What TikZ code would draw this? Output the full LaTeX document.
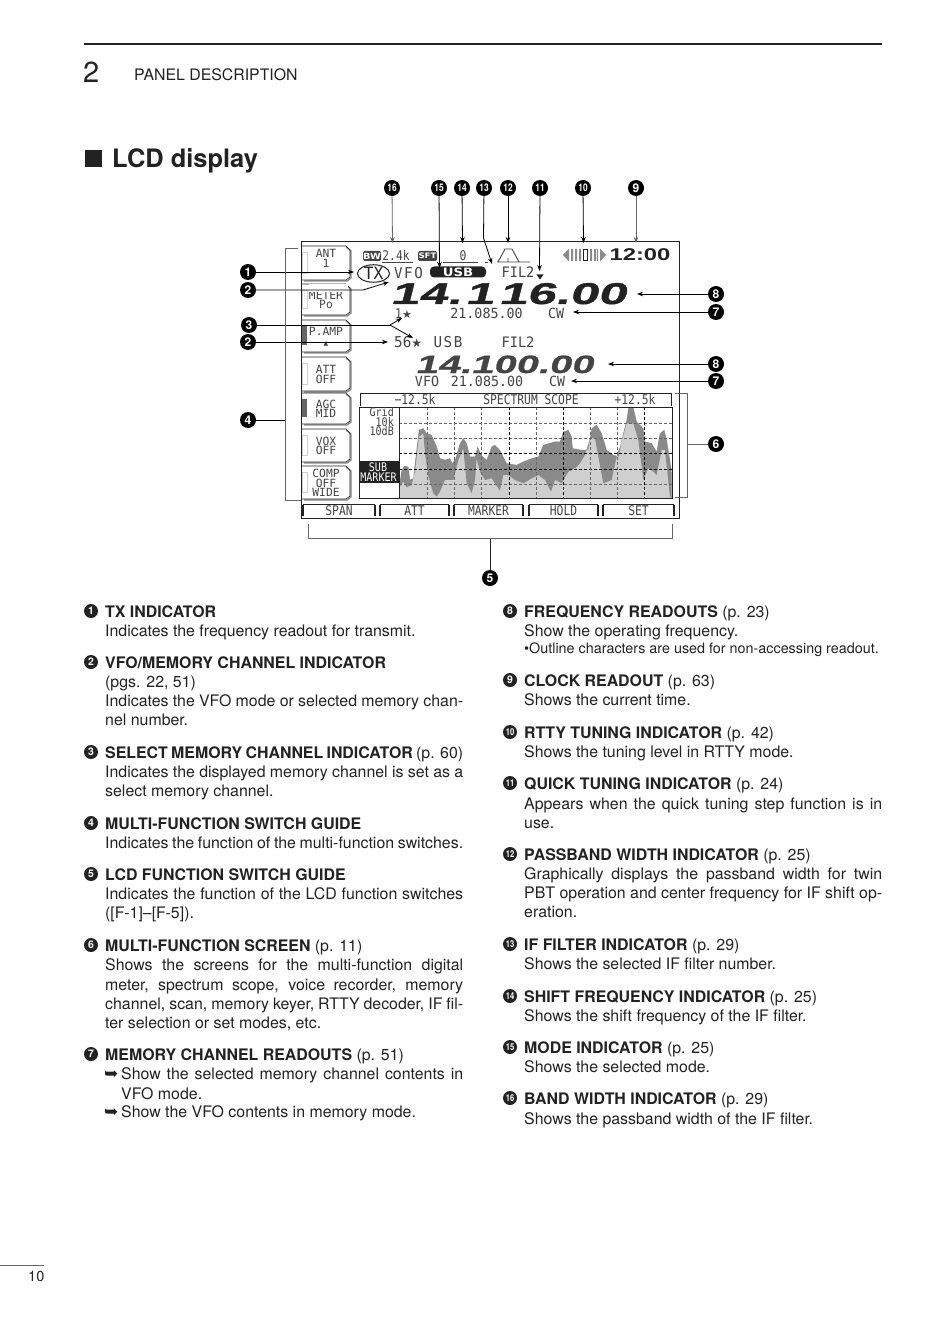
\documentclass[tikz,border=0pt]{standalone}
\usepackage{fontspec}
\usetikzlibrary{arrows.meta,shapes.geometric}
\setmainfont{TeX Gyre Heros}
\newfontfamily\lcdfont[FakeStretch=0.85]{DejaVu Sans Mono}
\newfontfamily\lcdwide[FakeStretch=0.95]{DejaVu Sans Mono}
\newfontfamily\lcdbtnfam{DejaVu Sans Mono}
\newfontfamily\symfont{DejaVu Sans}
\newfontfamily\freqfont[UprightFont={* Bold},FakeStretch=1.7,FakeSlant=0.25,FakeBold=1.2]{Liberation Sans}
\newfontfamily\freqbfont[UprightFont={* Bold},FakeStretch=1.6,FakeSlant=0.25,FakeBold=1.2]{Liberation Sans}
\newfontfamily\clockfont[UprightFont={* Bold},FakeStretch=1.4]{Liberation Sans}
\newfontfamily\pillfont[UprightFont={* Bold},FakeStretch=1.15]{DejaVu Sans}
\newfontfamily\condfont[UprightFont={* Bold},FakeStretch=0.8]{TeX Gyre Heros}
\definecolor{ink}{HTML}{222222}
\definecolor{lcdgrey}{HTML}{444444}
\definecolor{specdark}{HTML}{8A8A8A}
\definecolor{speclight}{HTML}{CFCFCF}
\definecolor{leadgrey}{HTML}{666666}
\newcounter{tl}
\newcommand\btnfont{\lcdbtnfam\fontsize{11.3}{9.6}\selectfont\lineskiplimit-10pt\relax}
\newcommand\bodyline[3]{\stepcounter{tl}\node[bodytext] (tl\thetl) at (#1,#2) {#3};}
\newcommand\smallline[3]{\stepcounter{tl}\node[bodysmall] (tl\thetl) at (#1,#2) {#3};}
\newcommand\jl[1]{\makebox[358pt][s]{#1}}
\newcommand\jlb[1]{\makebox[342pt][s]{#1}}
\newcommand\lcdbtn[6][]{% node options, name, top, bottom, text, indicator style
  \draw[btnshade] (346,#3+1) -- (351,#3+5) -- (351,#4-3) -- (347,#4) -- (304,#4);
  \draw[btnline] (302,#3) -- (346,#3) -- (350,#3+4) -- (350,#4-4) -- (346,#4-1) -- (302,#4-1);
  \draw[#6] (302,#3+6) rectangle (307,#4-8);
  \node[lcdbtn,#1] (#2) at (326,{(#3+#4)/2}) {#5};}
\newcommand\softkey[4]{% name, left, right, text
  \draw[softline] (#2,504.5) -- (#3,504.5);
  \draw[softside] (#2,505) -- (#2,516) (#3,505) -- (#3,516);
  \node[lcdkey] (#1) at ({(#2+#3)/2},510.5) {#4};}
\tikzset{
  bodytext/.style={anchor=base west,inner sep=0pt,text=ink,font=\fontsize{15.9}{19}\selectfont},
  bodysmall/.style={anchor=base west,inner sep=0pt,text=ink,font=\fontsize{14.35}{17}\selectfont},
  num/.style={circle,fill=black,text=white,inner sep=0pt,minimum size=16pt,font=\bfseries\fontsize{12}{12}\selectfont},
  numw/.style={num,font=\condfont\fontsize{10.5}{10.5}\selectfont},
  numt/.style={num,minimum size=14pt,fill=ink,font=\bfseries\fontsize{10.5}{10.5}\selectfont},
  numtw/.style={numt,font=\condfont\fontsize{9.5}{9.5}\selectfont},
  lead/.style={draw=black,line width=0.8pt,-{Stealth[length=6pt,width=4.5pt]}},
  leadg/.style={lead,draw=leadgrey},
  plain/.style={draw=black,line width=0.8pt},
  bracket/.style={draw=leadgrey,line width=0.9pt},
  frame/.style={draw=ink,line width=1pt},
  lcd/.style={inner sep=0pt,text=lcdgrey,font=\lcdfont\fontsize{15.3}{15.3}\selectfont},
  lcdsm/.style={inner sep=0pt,text=lcdgrey,font=\lcdfont\fontsize{13.3}{13.3}\selectfont},
  lcdrow/.style={inner sep=0pt,text=lcdgrey,font=\lcdwide\fontsize{14}{14}\selectfont},
  lcdbig/.style={inner sep=0pt,text=lcdgrey,font=\lcdwide\fontsize{15}{15}\selectfont},
  lcdgrid/.style={inner sep=0pt,text=lcdgrey,font=\lcdfont\fontsize{11.8}{11.8}\selectfont},
  lcdbtn/.style={lcdsm,align=center,font=\btnfont},
  lcdkey/.style={lcdsm},
  btnline/.style={draw=ink,line width=0.6pt},
  btnshade/.style={draw=specdark,line width=1.4pt},
  softline/.style={draw=ink,line width=0.8pt},
  softside/.style={draw=ink,line width=1.5pt},
  indon/.style={draw=none,fill=leadgrey},
  indoff/.style={draw=speclight,line width=0.8pt},
  griddark/.style={draw=black,line width=0.9pt,dash pattern=on 2.5pt off 2.5pt},
  gridlight/.style={draw=leadgrey,line width=0.7pt,dash pattern=on 2.5pt off 2.5pt},
}
\begin{document}
\begin{tikzpicture}[x=1pt,y=-1pt]
\path[fill=white,use as bounding box] (0,0) rectangle (950,1337);

% page header
\coordinate (ruleL) at (84,44); \coordinate (ruleR) at (882,44);
\draw[ink,line width=1.8pt] (ruleL) -- (ruleR);
\node[anchor=base west,inner sep=0pt,text=ink,font=\fontsize{29}{29}\selectfont] (chap) at (83,83) {2};
\node[anchor=base west,inner sep=0pt,text=ink,font=\fontsize{15.85}{17}\selectfont] (sect) at (134,81) {PANEL DESCRIPTION};
\node[anchor=north west,inner sep=0pt,fill=ink,minimum width=17pt,minimum height=17pt] (bullet) at (85,150) {};
\node[anchor=base west,inner sep=0pt,text=ink,font=\bfseries\fontsize{25.4}{27}\selectfont] (title) at (112,168) {LCD display};

% LCD outer frame
\draw[frame] (301,518) -- (301,242) -- (679,242) -- (679,518) -- cycle;

% left buttons
\lcdbtn[yshift=5pt]{bANT}{246}{281}{ANT\\1}{indoff}
\lcdbtn{bMET}{284}{316}{METER\\Po}{indoff}
\fill[white] (309,284.5) rectangle (348,292);
\lcdbtn{bAMP}{320}{353}{P.AMP\\\fontsize{6}{6}\selectfont\symfont ▲}{indon}
\lcdbtn{bATT}{357}{392}{ATT\\OFF}{indoff}
\lcdbtn{bAGC}{393}{425}{AGC\\MID}{indon}
\lcdbtn{bVOX}{429}{463}{VOX\\OFF}{indoff}
\lcdbtn{bCMP}{466}{500}{COMP\\OFF\\WIDE}{indoff}

% soft keys
\softkey{kSPAN}{303}{375}{SPAN}
\softkey{kATT}{380}{449}{ATT}
\softkey{kMRK}{454}{523}{MARKER}
\softkey{kHLD}{529}{598}{HOLD}
\softkey{kSET}{603}{674}{SET}

% top status row
\node[fill=lcdgrey,text=white,inner sep=0pt,minimum width=18pt,minimum height=10pt,rounded corners=1.5pt,font=\pillfont\fontsize{8.5}{8.5}\selectfont] (bw) at (372,256) {BW};
\node[lcdsm] (bwv) at (396,255.5) {2.4k};
\draw[lcdgrey,line width=0.8pt] (382,262) -- (413,262);
\node[fill=lcdgrey,text=white,inner sep=0pt,minimum width=19pt,minimum height=10pt,rounded corners=1.5pt,font=\pillfont\fontsize{7.5}{7.5}\selectfont] (sft) at (427.5,256) {SFT};
\node[lcdsm] (sftv) at (463,255.5) {0};
\draw[lcdgrey,line width=0.8pt] (443,262) -- (478,262);
\draw[lcdgrey,line width=0.8pt] (485,262) -- (488,262);
\draw[lcdgrey,line width=0.9pt] (497,262) -- (530,262) (498,262) -- (505,249) -- (512,249) -- (519,262) (508,258) -- (508,262);

% RTTY tuning indicator and clock
\fill[specdark] (569,248.5) -- (569,261.5) -- (563,255) -- cycle;
\fill[specdark] (600,248.5) -- (600,261.5) -- (606,255) -- cycle;
\fill[specdark] (571,249) rectangle +(2,12) (575,249) rectangle +(2,12) (579,249) rectangle +(2,12)
                (590,249) rectangle +(2,12) (594,249) rectangle +(2,12) (598,249) rectangle +(-1,12);
\draw[ink,line width=1pt] (583.5,249.5) rectangle (587,260.5);
\node[inner sep=0pt,text=ink,font=\clockfont\fontsize{17}{17}\selectfont] (clock) at (640,255) {12:00};

% main readout rows
\node[draw=ink,line width=1pt,ellipse,minimum width=32pt,minimum height=15pt,inner sep=0pt,text=ink,font=\lcdwide\fontsize{17}{17}\selectfont] (tx) at (373.5,273.5) {TX};
\node[lcdbig] (vfo) at (408.5,273) {V\kern1.5pt F\kern1.5pt O};
\node[fill=ink,text=white,rounded corners=4pt,inner sep=0pt,minimum width=56pt,minimum height=11pt,font=\pillfont\fontsize{11.5}{11.5}\selectfont] (usb) at (458,272) {USB};
\node[lcdrow,font=\lcdwide\fontsize{14.4}{14.4}\selectfont] (fil) at (518,272) {FIL2};
\fill[ink] (536.5,274.5) -- (543.5,274.5) -- (540,279.5) -- cycle;
\node[anchor=base west,inner sep=0pt,text=ink,font=\freqfont\fontsize{30}{30}\selectfont] (freq) at (390,304) {14.\kern4pt1\kern5pt16.00};
\node[lcdsm,anchor=west] (ch1) at (395,313.5) {1{\symfont\fontsize{11}{11}\selectfont★}};
\node[lcdrow] (ro1) at (486.5,313.5) {21.085.00};
\node[lcdrow] (cw1) at (556,313.5) {CW};
\node[lcdbig,anchor=west] (ch2) at (394,342) {56{\symfont\fontsize{12}{12}\selectfont★}};
\node[lcdbig] (usb2) at (448,342) {U\kern1.5pt S\kern1.5pt B};
\node[lcdrow,font=\lcdwide\fontsize{14.4}{14.4}\selectfont] (fil2) at (518,342) {FIL2};
\node[anchor=base west,inner sep=0pt,text=lcdgrey,font=\freqbfont\fontsize{25}{25}\selectfont] (freq2) at (415,373) {14.100.00};
\node[lcdrow] (vfo2) at (427,381.5) {VFO};
\node[lcdrow] (ro2) at (487,381.5) {21.085.00};
\node[lcdrow] (cw2) at (557,381.5) {CW};

% spectrum scope
\draw[ink,line width=0.9pt] (360,406) -- (360,393) -- (671,393) -- (671,406);
\node[lcdsm] (sL) at (415,400) {−12.5k};
\node[lcdsm] (sC) at (531,400) {SPECTRUM SCOPE};
\node[lcdsm] (sR) at (635,400) {+12.5k};
\begin{scope}[shift={(395,400)},x=0.3333pt,y=-0.3333pt]
\fill[speclight] (12,295) -- (12,262) -- (20,210) -- (28,198) -- (40,200) -- (45,240) -- (55,235) -- (60,190) -- (72,90) -- (85,85) -- (95,100) -- (110,105) -- (125,140) -- (135,175) -- (150,180) -- (165,175) -- (172,190) -- (182,175) -- (195,130) -- (205,115) -- (215,130) -- (225,170) -- (240,170) -- (248,140) -- (258,165) -- (275,180) -- (290,140) -- (300,135) -- (315,150) -- (325,170) -- (335,190) -- (365,195) -- (385,185) -- (410,175) -- (430,170) -- (445,135) -- (480,125) -- (495,125) -- (505,95) -- (520,90) -- (530,110) -- (533,145) -- (560,150) -- (580,150) -- (590,85) -- (605,75) -- (620,100) -- (635,150) -- (655,165) -- (672,170) -- (680,120) -- (695,60) -- (700,25) -- (715,22) -- (725,65) -- (745,85) -- (750,125) -- (770,130) -- (785,155) -- (795,100) -- (808,90) -- (815,120) -- (825,180) -- (830,220) -- (830,295) -- cycle;
\fill[specdark] (12,262) -- (20,210) -- (28,198) -- (40,200) -- (45,240) -- (55,235) -- (60,190) -- (72,90) -- (85,85) -- (95,100) -- (110,105) -- (125,140) -- (135,175) -- (150,180) -- (165,175) -- (172,190) -- (182,175) -- (195,130) -- (205,115) -- (215,130) -- (225,170) -- (240,170) -- (248,140) -- (258,165) -- (275,180) -- (290,140) -- (300,135) -- (315,150) -- (325,170) -- (335,190) -- (365,195) -- (385,185) -- (410,175) -- (430,170) -- (445,135) -- (480,125) -- (495,125) -- (505,95) -- (520,90) -- (530,110) -- (533,145) -- (560,150) -- (580,150) -- (590,85) -- (605,75) -- (620,100) -- (635,150) -- (655,165) -- (672,170) -- (680,120) -- (695,60) -- (700,25) -- (715,22) -- (725,65) -- (745,85) -- (750,125) -- (770,130) -- (785,155) -- (795,100) -- (808,90) -- (815,120) -- (825,180) -- (830,220)
-- (830,295) -- (825,290) -- (810,150) -- (800,150) -- (785,225) -- (770,210) -- (760,205) -- (745,240) -- (730,120) -- (715,70) -- (695,70) -- (680,125) -- (665,170) -- (650,240) -- (625,250) -- (610,170) -- (600,115) -- (585,115) -- (570,165) -- (555,190) -- (540,205) -- (520,215) -- (500,250) -- (480,240) -- (468,275) -- (450,240) -- (430,225) -- (410,235) -- (385,250) -- (360,240) -- (340,225) -- (325,225) -- (315,272) -- (290,235) -- (270,240) -- (255,215) -- (245,175) -- (240,240) -- (230,280) -- (215,250) -- (205,145) -- (190,180) -- (175,240) -- (150,240) -- (135,275) -- (125,290) -- (115,280) -- (100,230) -- (90,160) -- (85,100) -- (72,110) -- (60,215) -- (50,255) -- (35,262) -- (25,245) -- cycle;
\end{scope}
\foreach \yy in {423,438,484} \draw[gridlight] (399,\yy) -- (672,\yy);
\foreach \yy in {453,469} \draw[griddark] (399,\yy) -- (672,\yy);
\foreach \xx in {427,454,481,536,590,617} \draw[gridlight] (\xx,407) -- (\xx,498);
\foreach \xx in {509,563,644} \draw[griddark] (\xx,407) -- (\xx,498);
\draw[ink,line width=1pt] (359,407) rectangle (672,498) (399,407) -- (399,498);
\node[lcdgrid,anchor=east] (gr1) at (394,412) {Grid};
\node[lcdgrid,anchor=east] (gr2) at (394,422) {10k};
\node[lcdgrid,anchor=east] (gr3) at (394,431.5) {10dB};
\node[anchor=north west,fill=ink,inner sep=0pt,minimum width=39.5pt,minimum height=22pt] (subbox) at (359.5,461) {};
\node[lcdgrid,text=white] (sub1) at (378,467) {SUB};
\node[lcdgrid,text=white] (sub2) at (378.5,477.5) {MARKER};

% numbered callouts, top
\node[numw] (c16) at (392,188) {16};
\node[numw] (c15) at (439,188) {15};
\node[numw] (c14) at (462,188) {14};
\node[numw] (c13) at (484,188) {13};
\node[numw] (c12) at (508,188) {12};
\node[numw] (c11) at (540,188) {11};
\node[numw] (c10) at (583,188) {10};
\node[num] (c9) at (636,188) {9};
\coordinate (t16) at (392.5,243); \coordinate (t15) at (439.5,268); \coordinate (t14) at (462.5,243);
\coordinate (b13) at (483.5,238); \coordinate (t13) at (492,264); \coordinate (t12) at (508,243);
\coordinate (t11) at (539.5,271); \coordinate (t10) at (583.5,243); \coordinate (t9) at (636,243);
\draw[leadg] (c16) -- (t16);
\draw[lead] (c15) -- (t15);
\draw[lead] (c14) -- (t14);
\draw[lead] (c13) -- (b13) -- (t13);
\draw[lead] (c12) -- (t12);
\draw[lead] (c11) -- (t11);
\draw[lead] (c10) -- (t10);
\draw[leadg] (c9) -- (t9);

% callouts, left
\node[num] (c1) at (248,272) {1};
\node[num] (c2a) at (248,290) {2};
\node[num] (c3) at (249,325) {3};
\node[num] (c2b) at (248,342) {2};
\node[num] (c4) at (248,420) {4};
\coordinate (t1) at (354,272);
\coordinate (m2) at (363,290); \coordinate (t2a) at (389,282);
\coordinate (m3) at (390,325); \coordinate (t3a) at (402,318); \coordinate (t3b) at (413,338);
\coordinate (t2b) at (388,342);
\draw[lead] (c1) -- (t1);
\draw[lead] (c2a) -- (m2) -- (t2a);
\draw[plain] (c3) -- (m3);
\draw[lead] (m3) -- (t3a);
\draw[lead] (m3) -- (t3b);
\draw[lead] (c2b) -- (t2b);
\coordinate (b4) at (285,420);
\draw[plain] (c4) -- (b4);
\draw[bracket] (298,248) -- (285,248) -- (285,500) -- (301,500);

% callouts, right
\node[num] (c8a) at (716,294) {8};
\node[num] (c7a) at (716,312) {7};
\node[num] (c8b) at (716,364) {8};
\node[num] (c7b) at (716,381) {7};
\node[num] (c6) at (716,444) {6};
\coordinate (t8a) at (637,294); \coordinate (t7a) at (573,312);
\coordinate (t8b) at (608,364); \coordinate (t7b) at (571,381);
\draw[lead] (c8a) -- (t8a);
\draw[lead] (c7a) -- (t7a);
\draw[lead] (c8b) -- (t8b);
\draw[lead] (c7b) -- (t7b);
\coordinate (b6) at (687,444);
\draw[bracket] (c6) -- (b6);
\draw[bracket] (675,393) -- (687,393) -- (687,497) -- (675,497);

% callout, bottom
\node[num] (c5) at (490,578) {5};
\coordinate (b5) at (490,538);
\draw[ink,line width=1pt] (c5) -- (b5);
\draw[bracket] (308,524) -- (308,538) -- (672,538) -- (672,524);

% left column
\node[numt] (d1) at (91,611) {1};
\bodyline{105}{617}{\textbf{TX INDICATOR}}
\bodyline{105}{636}{Indicates the frequency readout for transmit.}
\node[numt] (d2) at (91,662) {2};
\bodyline{105}{668}{\textbf{VFO/MEMORY CHANNEL INDICATOR}}
\bodyline{105}{687}{(pgs. 22, 51)}
\bodyline{105}{706}{\jl{Indicates the VFO mode or selected memory chan-}}
\bodyline{105}{725}{nel number.}
\node[numt] (d3) at (91,752) {3};
\bodyline{105}{758}{\jl{\textbf{SELECT MEMORY CHANNEL INDICATOR} (p. 60)}}
\bodyline{105}{777}{\jl{Indicates the displayed memory channel is set as a}}
\bodyline{105}{796}{select memory channel.}
\node[numt] (d4) at (91,823) {4};
\bodyline{105}{829}{\textbf{MULTI-FUNCTION SWITCH GUIDE}}
\bodyline{105}{848}{\jl{Indicates the function of the multi-function switches.}}
\node[numt] (d5) at (91,874) {5};
\bodyline{105}{880}{\textbf{LCD FUNCTION SWITCH GUIDE}}
\bodyline{105}{899}{\jl{Indicates the function of the LCD function switches}}
\bodyline{105}{918}{([F-1]–[F-5]).}
\node[numt] (d6) at (91,945) {6};
\bodyline{105}{951}{\textbf{MULTI-FUNCTION SCREEN} (p. 11)}
\bodyline{105}{970}{\jl{Shows the screens for the multi-function digital}}
\bodyline{105}{990}{\jl{meter, spectrum scope, voice recorder, memory}}
\bodyline{105}{1009}{\jl{channel, scan, memory keyer, RTTY decoder, IF fil-}}
\bodyline{105}{1028}{ter selection or set modes, etc.}
\node[numt] (d7) at (91,1054) {7};
\bodyline{105}{1060}{\textbf{MEMORY CHANNEL READOUTS} (p. 51)}
\bodyline{104}{1079}{{\symfont\fontsize{17}{17}\selectfont ➥}}
\bodyline{121}{1079}{\jlb{Show the selected memory channel contents in}}
\bodyline{121}{1099}{VFO mode.}
\bodyline{104}{1117}{{\symfont\fontsize{17}{17}\selectfont ➥}}
\bodyline{121}{1117}{Show the VFO contents in memory mode.}

% right column
\node[numt] (d8) at (510,611) {8};
\bodyline{524}{617}{\textbf{FREQUENCY READOUTS} (p. 23)}
\bodyline{524}{636}{Show the operating frequency.}
\smallline{524}{653}{•Outline characters are used for non-accessing readout.}
\node[numt] (d9) at (510,680) {9};
\bodyline{524}{686}{\textbf{CLOCK READOUT} (p. 63)}
\bodyline{524}{705}{Shows the current time.}
\node[numtw] (d10) at (510,732) {10};
\bodyline{524}{738}{\textbf{RTTY TUNING INDICATOR} (p. 42)}
\bodyline{524}{757}{Shows the tuning level in RTTY mode.}
\node[numtw] (d11) at (510,783) {11};
\bodyline{524}{789}{\textbf{QUICK TUNING INDICATOR} (p. 24)}
\bodyline{524}{809}{\jl{Appears when the quick tuning step function is in}}
\bodyline{524}{828}{use.}
\node[numtw] (d12) at (510,854) {12};
\bodyline{524}{860}{\textbf{PASSBAND WIDTH INDICATOR} (p. 25)}
\bodyline{524}{879}{\jl{Graphically displays the passband width for twin}}
\bodyline{524}{898}{\jl{PBT operation and center frequency for IF shift op-}}
\bodyline{524}{917}{eration.}
\node[numtw] (d13) at (510,944) {13};
\bodyline{524}{950}{\textbf{IF FILTER INDICATOR} (p. 29)}
\bodyline{524}{969}{Shows the selected IF filter number.}
\node[numtw] (d14) at (510,996) {14};
\bodyline{524}{1002}{\textbf{SHIFT FREQUENCY INDICATOR} (p. 25)}
\bodyline{524}{1021}{Shows the shift frequency of the IF filter.}
\node[numtw] (d15) at (510,1047) {15};
\bodyline{524}{1053}{\textbf{MODE INDICATOR} (p. 25)}
\bodyline{524}{1072}{Shows the selected mode.}
\node[numtw] (d16) at (510,1098) {16};
\bodyline{524}{1104}{\textbf{BAND WIDTH INDICATOR} (p. 29)}
\bodyline{524}{1124}{Shows the passband width of the IF filter.}

% footer
\coordinate (footL) at (0,1265); \coordinate (footR) at (44,1265);
\draw[leadgrey,line width=0.5pt] (footL) -- (footR);
\node[anchor=base west,inner sep=0pt,text=ink,font=\fontsize{14.5}{15}\selectfont] (pg) at (28,1281) {10};
\end{tikzpicture}
\end{document}
